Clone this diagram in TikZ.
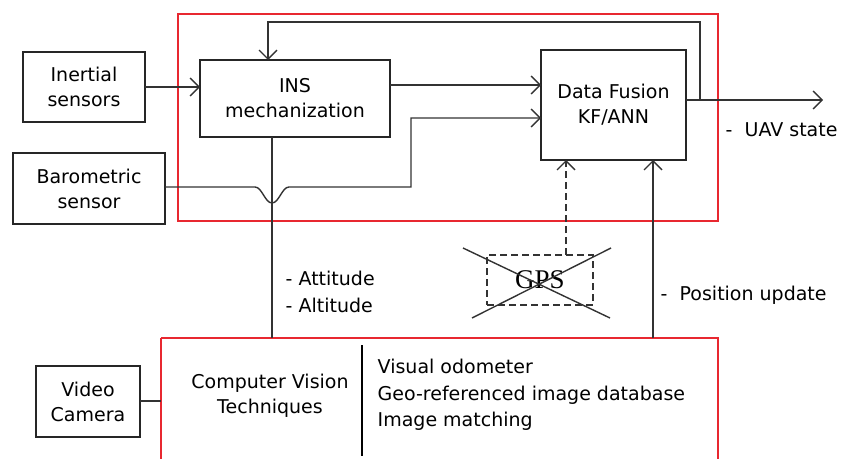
\documentclass[tikz,border=0pt]{standalone}
\usepackage{fontspec}
\setmainfont{DejaVu Sans}
\newfontfamily\gpsfont{Liberation Serif}
\usetikzlibrary{arrows.meta}
\definecolor{boxred}{RGB}{232,40,48}
\begin{document}
\begin{tikzpicture}[x=1pt,y=-1pt,
  line width=1.4pt,
  every node/.style={font=\fontsize{19}{25}\selectfont, inner sep=0pt},
  blk/.style={draw=black!85, line width=1.4pt},
  redbox/.style={draw=boxred, line width=1.2pt},
  conn/.style={draw=black!80, line width=1.4pt},
  arr/.style={conn, -{Straight Barb[length=9pt,width=18pt,line width=1.4pt]}},
  lbl/.style={anchor=west, align=left}]
\useasboundingbox (0,0) rectangle (849,458);
% red boxes
\draw[redbox] (178,14) rectangle (718,221);
\draw[redbox] (161,338) -- (161,465) (161,338) -- (718,338) -- (718,465);
% blocks
\draw[blk] (23,52) rectangle (145,122) node[midway, align=center] (inert) {Inertial\\sensors};
\coordinate (inertR) at (145,87);
\draw[blk] (200,60) rectangle (390,137) node[midway, align=center] (ins) {INS\\mechanization};
\draw[blk] (541,50) rectangle (686,160) node[midway, align=center] (df) {Data Fusion\\KF/ANN};
\draw[blk] (13,153) rectangle (165,224) node[midway, align=center] (baro) {Barometric\\sensor};
\draw[blk] (36,366) rectangle (140,437) node[midway, align=center] (cam) {Video\\Camera};
% coordinates
\coordinate (insL) at (200,87);
\coordinate (insR) at (390,85);
\coordinate (insT) at (268,60);
\coordinate (insB) at (272,137);
\coordinate (dfL1) at (541,85);
\coordinate (dfL2) at (541,118);
\coordinate (dfR) at (686,100);
\coordinate (dfB1) at (566,160);
\coordinate (dfB2) at (653,160);
\coordinate (baroR) at (165,187);
\coordinate (out) at (823,100);
\coordinate (cvT1) at (272,338);
\coordinate (cvT2) at (653,338);
\coordinate (camR) at (140,401);
\coordinate (cvL) at (161,401);
% connectors
\draw[arr] (inertR) -- (insL);
\draw[arr] (insR) -- (dfL1);
\draw[arr] (baroR) -- (255,187) .. controls (262,187) and (265,203) .. (272,203)
   .. controls (279,203) and (282,187) .. (289,187) -- (411,187) -- (411,118) -- (dfL2);
\draw[arr] (dfR) -- (out);
\draw[arr] (700,100) -- (700,22) -- (268,22) -- (insT);
\draw[conn] (insB) -- (cvT1);
\draw[arr] (cvT2) -- (dfB2);
\draw[conn] (camR) -- (cvL);
% GPS
\node[draw=black!80, dash pattern=on 7pt off 4pt, line width=1.4pt, minimum width=106pt, minimum height=50pt, font=\gpsfont\fontsize{27}{27}\selectfont] (gps) at (540,280) {GPS};
\draw[arr, dash pattern=on 7pt off 4pt] (566,255) -- (dfB1);
\draw[conn] (463,248) -- (610,318);
\draw[conn] (472,318) -- (611,248);
% labels
\node[lbl] (uav) at (725,130) {-\ \ UAV state};
\node[lbl] (pos) at (660,295) {-\ \ Position update};
\node[lbl] (att) at (285,278) {- Attitude};
\node[lbl] (alt) at (285,305) {- Altitude};
\node[align=center, font=\fontsize{19}{25}\selectfont] (cv) at (270,396) {Computer Vision\\Techniques};
\draw[line width=2.6pt] (362,345) -- (362,456);
\node[lbl, font=\fontsize{19}{26.5}\selectfont] (cvt) at (377,395) {Visual odometer\\Geo-referenced image database\\Image matching};
\end{tikzpicture}
\end{document}
